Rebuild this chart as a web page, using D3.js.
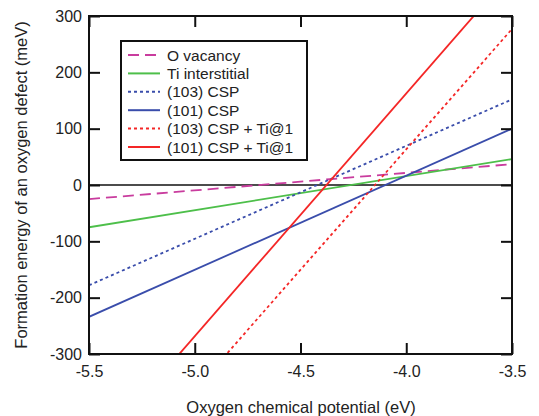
<!DOCTYPE html>
<html>
<head>
<meta charset="utf-8">
<script src="https://cdn.jsdelivr.net/npm/d3@7"></script>
<style>
  html, body { margin: 0; padding: 0; background: #fff; }
  svg { display: block; }
  text { font-family: "Liberation Sans", Arial, sans-serif; fill: #222; }
</style>
</head>
<body>
<svg id="chart" width="539" height="416"></svg>
<script>
// Oxygen chemical potential range (eV) and formation energy range (meV)
const xDomain = [-5.5, -3.5];
const yDomain = [-300, 300];
const xTicks = [-5.5, -5.0, -4.5, -4.0, -3.5];
const yTicks = [-300, -200, -100, 0, 100, 200, 300];

// Each defect's formation energy is linear in the chemical potential:
// values at mu = -5.5 eV and mu = -3.5 eV
const seriesNames = ["O vacancy", "Ti interstitial", "(103) CSP", "(101) CSP", "(103) CSP + Ti@1", "(101) CSP + Ti@1"];
const muEnds = [-5.5, -3.5];
const oVacancy = [-25, 37];
const tiInterstitial = [-75, 46];
const csp103 = [-178, 152];
const csp101 = [-234, 100];
const csp103Ti = [-578, 277];
const csp101Ti = [-484, 378];

const seriesValues = [oVacancy, tiInterstitial, csp103, csp101, csp103Ti, csp101Ti];
const seriesColors = ["#c93c9e", "#4dbf4a", "#3a4dab", "#3a4dab", "#f42626", "#f42626"];
const seriesDash = ["11,6", null, "3,3", null, "3,3", null];

const svg = d3.select("#chart");
const m = { left: 89, right: 512, top: 16, bottom: 354 };

const x = d3.scaleLinear().domain(xDomain).range([m.left, m.right]);
const y = d3.scaleLinear().domain(yDomain).range([m.bottom, m.top]);

svg.append("defs").append("clipPath").attr("id", "plotClip")
  .append("rect")
  .attr("x", m.left).attr("y", m.top)
  .attr("width", m.right - m.left).attr("height", m.bottom - m.top);

// zero line
svg.append("line")
  .attr("x1", m.left).attr("x2", m.right)
  .attr("y1", y(0)).attr("y2", y(0))
  .attr("stroke", "#111").attr("stroke-width", 1.6);

// data lines
const line = d3.line().x(d => x(d[0])).y(d => y(d[1]));
const plot = svg.append("g").attr("clip-path", "url(#plotClip)");
seriesValues.forEach((vals, i) => {
  const pts = muEnds.map((mu, j) => [mu, vals[j]]);
  plot.append("path")
    .attr("d", line(pts))
    .attr("fill", "none")
    .attr("stroke", seriesColors[i])
    .attr("stroke-width", 1.8)
    .attr("stroke-dasharray", seriesDash[i]);
});

// axes with inward ticks on all four sides
const tickLen = 11;
const hyphen = s => s.replace("\u2212", "-");
const fmtX = d => hyphen(d3.format(".1f")(d));
const fmtY = d => hyphen(d3.format("d")(d));
const axisStyle = g => {
  g.select(".domain").remove();
  g.selectAll(".tick line").attr("stroke", "#111").attr("stroke-width", 2);
  g.selectAll(".tick text").style("font-size", "16px").attr("fill", "#222");
};

svg.append("g").attr("transform", `translate(0,${m.bottom})`)
  .call(d3.axisBottom(x).tickValues(xTicks).tickFormat(fmtX).tickSizeInner(-tickLen).tickSizeOuter(0).tickPadding(5))
  .call(axisStyle)
  .call(g => g.selectAll(".tick text").attr("dy", "1.1em"));
svg.append("g").attr("transform", `translate(0,${m.top})`)
  .call(d3.axisTop(x).tickValues(xTicks).tickFormat("").tickSizeInner(-tickLen).tickSizeOuter(0))
  .call(axisStyle);
svg.append("g").attr("transform", `translate(${m.left},0)`)
  .call(d3.axisLeft(y).tickValues(yTicks).tickFormat(fmtY).tickSizeInner(-tickLen).tickSizeOuter(0).tickPadding(7))
  .call(axisStyle);
svg.append("g").attr("transform", `translate(${m.right},0)`)
  .call(d3.axisRight(y).tickValues(yTicks).tickFormat("").tickSizeInner(-tickLen).tickSizeOuter(0))
  .call(axisStyle);

// frame
svg.append("rect")
  .attr("x", m.left).attr("y", m.top)
  .attr("width", m.right - m.left).attr("height", m.bottom - m.top)
  .attr("fill", "none").attr("stroke", "#111").attr("stroke-width", 2);

// axis titles
svg.append("text")
  .attr("x", 301).attr("y", 413)
  .attr("text-anchor", "middle").style("font-size", "16.5px")
  .text("Oxygen chemical potential (eV)");
svg.append("text")
  .attr("transform", `translate(27,${(m.top + m.bottom) / 2}) rotate(-90)`)
  .attr("text-anchor", "middle").style("font-size", "16.5px")
  .text("Formation energy of an oxygen defect (meV)");

// legend
const lg = svg.append("g").attr("transform", "translate(121,41)");
lg.append("rect").attr("width", 186).attr("height", 119)
  .attr("fill", "#fff").attr("stroke", "#111").attr("stroke-width", 2);
seriesNames.forEach((name, i) => {
  const cy = 14 + i * 18.4;
  lg.append("line")
    .attr("x1", 7).attr("x2", 39).attr("y1", cy).attr("y2", cy)
    .attr("stroke", seriesColors[i]).attr("stroke-width", 2)
    .attr("stroke-dasharray", seriesDash[i]);
  lg.append("text")
    .attr("x", 46).attr("y", cy).attr("dy", "0.36em")
    .style("font-size", "15.5px")
    .text(name);
});
</script>
</body>
</html>
